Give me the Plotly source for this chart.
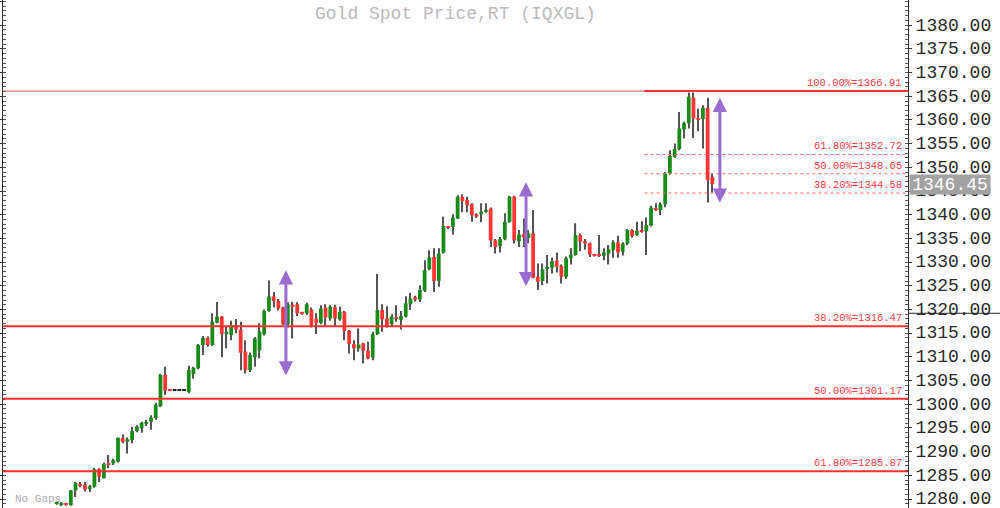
import plotly.graph_objects as go

# ---- candle data ----
opens = [1279.0, 1278.9, 1279.1, 1278.7, 1281.8, 1283.2, 1283.0, 1282.1, 1282.6, 1286.3,
         1284.4, 1287.4, 1287.5, 1287.9, 1292.9, 1292.1, 1292.45, 1294.35, 1294.9, 1295.8,
         1296.3, 1297.1, 1299.6, 1306.2, 1302.95, 1302.85, 1302.85, 1302.85, 1302.6, 1306.4,
         1307.6, 1312.5, 1314.0, 1312.5, 1317.2, 1318.5, 1314.8, 1314.6, 1316.7, 1315.8,
         1311.1, 1307.2, 1309.9, 1311.4, 1314.8, 1319.7, 1322.8, 1321.8, 1320.4, 1316.9,
         1321.0, 1321.1, 1319.3, 1319.2, 1320.0, 1318.1, 1317.2, 1320.4, 1318.1, 1320.5,
         1317.9, 1319.5, 1315.5, 1312.7, 1311.8, 1312.85, 1311.3, 1309.9, 1314.8, 1319.9,
         1318.1, 1316.9, 1318.4, 1317.8, 1318.5, 1321.1, 1322.55, 1322.1, 1323.95, 1328.5,
         1331.1, 1326.05, 1332.0, 1337.4, 1337.45, 1339.2, 1343.8, 1343.1, 1342.2, 1340.1,
         1340.1, 1340.6, 1341.3, 1334.6, 1333.4, 1334.85, 1338.5, 1343.8, 1334.4, 1335.9,
         1335.1, 1336.05, 1326.9, 1326.0, 1328.7, 1328.8, 1330.35, 1329.2, 1326.9, 1330.8,
         1331.5, 1335.7, 1334.4, 1334.0, 1331.6, 1331.5, 1331.35, 1331.8, 1332.5, 1334.15,
         1332.2, 1333.9, 1336.75, 1335.7, 1336.75, 1336.5, 1337.7, 1341.4, 1341.0, 1342.2,
         1348.7, 1352.2, 1353.85, 1358.0, 1359.3, 1364.7, 1360.4, 1360.2, 1362.55, 1348.0]
highs = [1279.3, 1279.3, 1279.2, 1281.9, 1283.6, 1283.6, 1283.6, 1283.0, 1286.6, 1286.5,
         1287.7, 1289.3, 1288.5, 1293.0, 1293.6, 1293.0, 1295.25, 1295.55, 1296.3, 1296.7,
         1297.7, 1300.3, 1306.4, 1307.9, 1302.95, 1302.85, 1302.85, 1302.85, 1308.1, 1307.9,
         1312.7, 1314.4, 1314.3, 1319.2, 1321.6, 1318.6, 1316.3, 1317.6, 1318.0, 1317.4,
         1313.5, 1310.9, 1314.2, 1317.1, 1320.0, 1326.1, 1323.7, 1322.2, 1320.6, 1321.5,
         1321.6, 1321.5, 1319.5, 1321.4, 1320.4, 1319.2, 1320.9, 1321.1, 1320.9, 1321.0,
         1320.6, 1319.7, 1315.65, 1313.5, 1316.0, 1313.0, 1313.2, 1315.3, 1327.5, 1321.1,
         1320.7, 1319.0, 1320.9, 1319.7, 1322.8, 1323.5, 1322.9, 1325.1, 1330.4, 1332.5,
         1332.9, 1332.9, 1339.6, 1337.6, 1340.1, 1344.1, 1344.3, 1343.8, 1342.4, 1340.3,
         1342.4, 1342.4, 1341.5, 1334.85, 1335.3, 1340.3, 1344.0, 1344.0, 1336.75, 1339.2,
         1336.75, 1341.0, 1329.7, 1329.7, 1331.5, 1330.9, 1332.05, 1329.5, 1331.2, 1332.9,
         1338.2, 1336.05, 1334.9, 1334.15, 1331.7, 1335.7, 1332.9, 1333.6, 1334.6, 1335.55,
         1334.2, 1337.0, 1337.0, 1338.5, 1338.6, 1339.4, 1341.9, 1342.4, 1342.6, 1349.0,
         1353.6, 1355.05, 1361.7, 1359.6, 1365.8, 1365.8, 1362.4, 1363.1, 1364.7, 1348.7]
lows = [1278.8, 1278.5, 1278.6, 1278.6, 1280.4, 1282.5, 1281.6, 1281.5, 1282.4, 1283.6,
        1284.3, 1286.5, 1287.2, 1287.7, 1291.75, 1289.6, 1291.75, 1294.1, 1294.0, 1295.4,
        1294.6, 1296.7, 1299.4, 1301.95, 1302.8, 1302.85, 1302.85, 1302.85, 1302.3, 1305.4,
        1307.4, 1310.4, 1312.2, 1312.3, 1317.1, 1309.9, 1311.8, 1313.5, 1315.0, 1307.2,
        1306.5, 1306.8, 1307.9, 1309.7, 1314.5, 1319.5, 1320.4, 1319.8, 1316.7, 1316.2,
        1313.9, 1318.6, 1318.9, 1318.9, 1316.2, 1314.8, 1316.9, 1316.4, 1317.6, 1316.4,
        1317.6, 1313.5, 1310.7, 1309.3, 1311.1, 1308.6, 1309.5, 1309.3, 1314.6, 1315.3,
        1316.2, 1316.4, 1317.4, 1315.8, 1318.3, 1319.9, 1321.7, 1321.6, 1323.7, 1328.3,
        1323.7, 1324.8, 1331.8, 1337.0, 1335.8, 1339.1, 1340.5, 1340.5, 1338.5, 1339.3,
        1338.4, 1340.4, 1333.2, 1331.8, 1332.05, 1334.6, 1338.3, 1333.9, 1333.2, 1333.2,
        1334.0, 1326.6, 1324.1, 1325.15, 1325.5, 1327.6, 1327.8, 1325.5, 1326.5, 1329.5,
        1331.35, 1332.3, 1332.6, 1331.1, 1331.2, 1331.1, 1330.4, 1329.5, 1330.9, 1330.9,
        1331.4, 1333.6, 1335.2, 1335.55, 1336.2, 1331.5, 1337.5, 1340.8, 1339.9, 1341.6,
        1348.5, 1352.0, 1353.6, 1356.1, 1358.2, 1356.2, 1357.6, 1354.0, 1342.6, 1344.7]
closes = [1279.15, 1279.1, 1278.8, 1281.8, 1283.4, 1282.8, 1282.0, 1282.7, 1286.3, 1284.7,
          1287.4, 1287.2, 1288.2, 1292.9, 1292.1, 1292.6, 1294.35, 1295.25, 1296.1, 1296.25,
          1297.2, 1299.9, 1306.2, 1302.85, 1302.8, 1302.85, 1302.85, 1302.85, 1307.2, 1307.7,
          1312.5, 1314.0, 1312.5, 1317.4, 1318.5, 1314.8, 1315.3, 1316.7, 1315.8, 1310.9,
          1307.2, 1310.4, 1313.9, 1315.3, 1319.7, 1322.7, 1321.8, 1320.2, 1316.9, 1321.1,
          1320.7, 1319.2, 1319.1, 1321.1, 1316.6, 1317.2, 1320.2, 1318.3, 1320.6, 1318.1,
          1319.5, 1315.5, 1312.7, 1311.8, 1312.6, 1311.3, 1309.7, 1314.8, 1319.9, 1317.9,
          1316.35, 1318.5, 1318.1, 1318.6, 1321.3, 1322.3, 1322.1, 1324.1, 1328.3, 1331.0,
          1326.05, 1331.8, 1337.6, 1337.2, 1339.35, 1343.8, 1342.9, 1342.0, 1339.9, 1339.6,
          1340.6, 1341.05, 1334.6, 1333.2, 1334.85, 1338.5, 1343.8, 1334.6, 1335.8, 1335.2,
          1336.05, 1326.7, 1325.85, 1328.45, 1328.95, 1330.2, 1329.0, 1326.9, 1330.8, 1331.6,
          1335.7, 1334.3, 1333.9, 1331.6, 1331.4, 1331.3, 1332.05, 1332.7, 1334.15, 1332.05,
          1333.9, 1336.75, 1335.55, 1336.6, 1336.4, 1337.8, 1341.5, 1341.1, 1342.2, 1348.7,
          1352.4, 1353.85, 1358.2, 1359.3, 1364.9, 1360.3, 1360.1, 1362.55, 1347.3, 1346.45]

last_price = 1346.45
title_text = "Gold Spot Price,RT (IQXGL)"
y_tickvals = [1280, 1285, 1290, 1295, 1300, 1305, 1310, 1315, 1320, 1325, 1330,
              1335, 1340, 1345, 1350, 1355, 1360, 1365, 1370, 1375, 1380]
y_ticktext = [f"{v:.2f}" for v in y_tickvals]

# Fibonacci levels (drawn level, label)
upper_levels = [1366.1, 1352.72, 1348.65, 1344.58]
upper_labels = ["100.00%=1366.91", "61.80%=1352.72", "50.00%=1348.65", "38.20%=1344.58"]
lower_levels = [1316.47, 1301.17, 1285.87]
lower_labels = ["38.20%=1316.47", "50.00%=1301.17", "61.80%=1285.87"]
fib_start = 124.6

# purple measuring arrows: (candle index, top, bottom)
arrow_x = [48.6, 99.5, 140.6]
arrow_top = [1328.3, 1346.85, 1364.7]
arrow_bottom = [1305.75, 1324.6, 1342.2]

crosshair_price = 1319.2

# ---- styling ----
MONO = "Liberation Mono, Courier New, monospace"
GREEN = "#178a17"
RED = "#ff3535"
DOJI = "#222222"
WICK = "#555555"
FIB = "#ff3030"
X_RANGE = [-11.38, 180.48]
Y_RANGE = [1278.1, 1385.32]

n = len(opens)
xs = list(range(n))
body_base, body_h, body_col = [], [], []
for o, c in zip(opens, closes):
    body_base.append(min(o, c))
    body_h.append(max(abs(c - o), 0.22))
    body_col.append(GREEN if c > o else (RED if c < o else DOJI))

fig = go.Figure()
fig.add_trace(go.Bar(x=xs, base=lows, y=[h - l for h, l in zip(highs, lows)],
                     width=0.25, marker=dict(color=WICK, line=dict(width=0)),
                     hoverinfo="skip", showlegend=False))
fig.add_trace(go.Bar(x=xs, base=body_base, y=body_h, width=0.8,
                     marker=dict(color=body_col, line=dict(width=0)),
                     hoverinfo="skip", showlegend=False))
# dummy trace to activate left axis
fig.add_trace(go.Scatter(x=[None], y=[None], yaxis="y2", showlegend=False))

shapes = []
annotations = []

# thin full-width 100% line
shapes.append(dict(type="line", xref="paper", x0=0, x1=1, yref="y",
                   y0=upper_levels[0], y1=upper_levels[0],
                   line=dict(color="#d85a5a", width=1)))
for i, (lv, lb) in enumerate(zip(upper_levels, upper_labels)):
    if i == 0:
        ln = dict(color=FIB, width=2)
    else:
        ln = dict(color="#ff6b6b", width=1, dash="dot")
    shapes.append(dict(type="line", xref="x", x0=fib_start, x1=X_RANGE[1], yref="y",
                       y0=lv, y1=lv, line=ln))
    annotations.append(dict(xref="paper", x=1, xanchor="right", xshift=-4,
                            yref="y", y=lv, yanchor="bottom", yshift=0,
                            text=lb, showarrow=False,
                            font=dict(family=MONO, size=10.5, color="#ff4040")))
for lv, lb in zip(lower_levels, lower_labels):
    shapes.append(dict(type="line", xref="paper", x0=0, x1=1, yref="y",
                       y0=lv, y1=lv, line=dict(color=FIB, width=2)))
    annotations.append(dict(xref="paper", x=1, xanchor="right", xshift=-4,
                            yref="y", y=lv, yanchor="bottom", yshift=0,
                            text=lb, showarrow=False,
                            font=dict(family=MONO, size=10.5, color="#ff4040")))

# crosshair stub in axis area
shapes.append(dict(type="line", xref="paper", x0=1.0, x1=1.11, yref="y",
                   y0=crosshair_price, y1=crosshair_price,
                   line=dict(color="#222222", width=1)))

for ax_, t, b in zip(arrow_x, arrow_top, arrow_bottom):
    annotations.append(dict(x=ax_, y=t, ax=ax_, ay=b, xref="x", yref="y",
                            axref="x", ayref="y", text="", showarrow=True,
                            arrowside="end+start", arrowhead=2, startarrowhead=2,
                            arrowsize=0.95, startarrowsize=0.95, arrowwidth=3,
                            arrowcolor="#9a6ccf", standoff=0, startstandoff=0))

annotations.append(dict(xref="paper", x=0.5, yref="paper", y=1, yanchor="top", yshift=-2,
                        text=title_text, showarrow=False,
                        font=dict(family=MONO, size=18, color="#bcbcbc")))
annotations.append(dict(xref="paper", x=0, xanchor="left", xshift=10, yref="paper", y=0,
                        yanchor="bottom", yshift=1, text="No Gaps", showarrow=False,
                        font=dict(family=MONO, size=11, color="#ababab")))
annotations.append(dict(xref="paper", x=1, xanchor="left", xshift=1, yref="y", y=last_price,
                        text=f"{last_price:.2f}", showarrow=False, bgcolor="#a2a2a2",
                        width=80, height=19, borderpad=0,
                        font=dict(family=MONO, size=18, color="#ffffff")))

fig.update_layout(
    width=1000, height=508,
    margin=dict(l=3, r=92, t=0, b=0, autoexpand=False),
    paper_bgcolor="white", plot_bgcolor="white",
    barmode="overlay",
    showlegend=False,
    xaxis=dict(range=X_RANGE, visible=False, showgrid=False, zeroline=False),
    yaxis=dict(range=Y_RANGE, side="right", tickmode="array", tickvals=y_tickvals,
               ticktext=y_ticktext, showgrid=False, zeroline=False, automargin=False,
               showline=True, linecolor="#333333", linewidth=1,
               ticks="outside", ticklen=3, tickcolor="#333333",
               ticklabeloverflow="allow", ticklabelshift=-1,
               tickfont=dict(family=MONO, size=18, color="#2a2a2a"),
               minor=dict(tickmode="linear", tick0=1280, dtick=1, ticks="inside",
                          ticklen=3, tickcolor="#555555")),
    yaxis2=dict(range=Y_RANGE, overlaying="y", side="left", tickmode="linear",
                tick0=1280, dtick=5, showticklabels=False, showgrid=False,
                zeroline=False, showline=True, linecolor="#333333", linewidth=1,
                automargin=False,
                ticks="outside", ticklen=3, tickcolor="#333333",
                minor=dict(tickmode="linear", tick0=1280, dtick=1, ticks="inside",
                           ticklen=3, tickcolor="#555555")),
    shapes=shapes,
    annotations=annotations,
)

fig.write_html(
    "out.html",
    config={"displayModeBar": False},
    post_script="document.body.style.margin='0';document.body.style.overflow='hidden';",
)
